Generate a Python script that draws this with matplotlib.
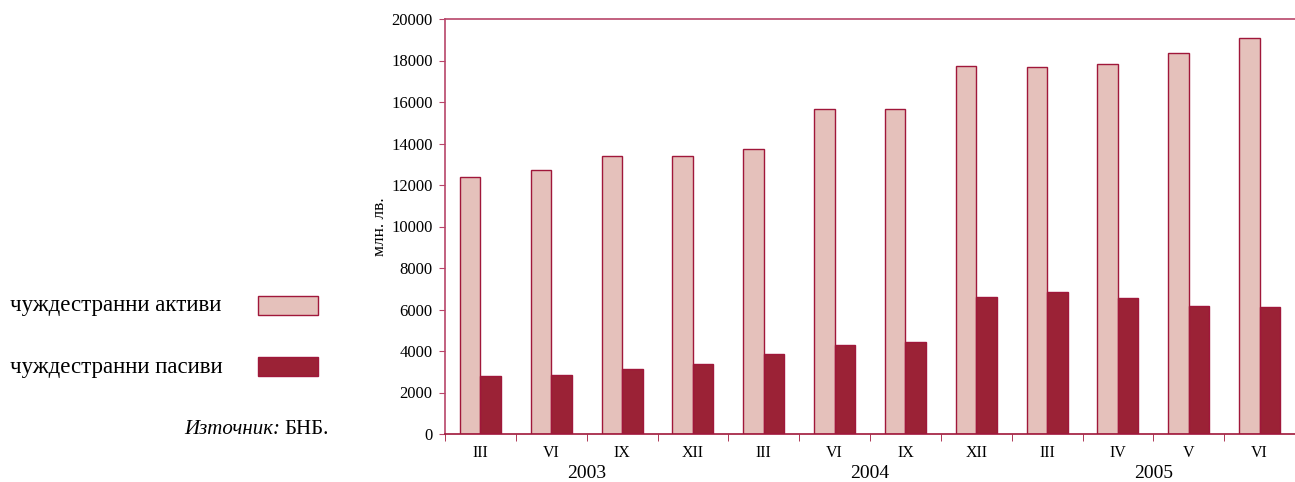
import numpy as np
import matplotlib.pyplot as plt
from matplotlib.patches import Rectangle

plt.rcParams['font.family'] = ['Liberation Serif', 'DejaVu Serif']

months = ['III', 'VI', 'IX', 'XII', 'III', 'VI', 'IX', 'XII', 'III', 'IV', 'V', 'VI']
years = ['2003', '2004', '2005']
year_groups = [(0, 3), (4, 7), (8, 11)]
assets = [12400, 12700, 13400, 13400, 13750, 15650, 15650, 17750, 17700, 17850, 18350, 19100]
liabilities = [2800, 2820, 3150, 3350, 3850, 4300, 4450, 6600, 6850, 6550, 6150, 6100]

c_assets = '#e5c1bb'
c_liab = '#9b2236'
c_edge = '#a0173a'
c_axis = '#b8466a'

fig = plt.figure(figsize=(12.95, 4.82), dpi=100)
ax = fig.add_axes([445 / 1295, 1 - 434 / 482, 850 / 1295, 415 / 482])

x = np.arange(len(months))
w = 0.29
ax.bar(x - w / 2, assets, w, color=c_assets, edgecolor=c_edge, linewidth=1)
ax.bar(x + w / 2, liabilities, w, color=c_liab, edgecolor=c_edge, linewidth=1)

ax.set_xlim(-0.5, len(months) - 0.5)
ax.set_ylim(0, 20000)
ax.set_yticks(range(0, 20001, 2000))
ax.tick_params(axis='y', labelsize=12, length=4, color=c_axis, pad=5)
ax.set_xticks(x)
ax.set_xticklabels(months, fontsize=11.5)
ax.tick_params(axis='x', length=0, pad=8)
ax.set_xticks(np.arange(-0.5, len(months), 1), minor=True)
ax.tick_params(axis='x', which='minor', length=5, color=c_edge)

ax.spines['right'].set_visible(False)
ax.spines['top'].set_color(c_axis)
ax.spines['left'].set_color(c_axis)
ax.spines['bottom'].set_color(c_edge)
for s in ['top', 'left', 'bottom']:
    ax.spines[s].set_linewidth(1.2)

ax.set_ylabel('млн. лв.', fontsize=12.5, labelpad=2)

for yr, (a, b) in zip(years, year_groups):
    ax.text((a + b) / 2, -0.075, yr, transform=ax.get_xaxis_transform(),
            ha='center', va='top', fontsize=14)

# legend at the left
fig.text(10 / 1295, 1 - 305 / 482, 'чуждестранни активи', fontsize=16.5, va='center', ha='left')
fig.text(10 / 1295, 1 - 367 / 482, 'чуждестранни пасиви', fontsize=16.5, va='center', ha='left')
fig.patches.append(Rectangle((258 / 1295, 1 - 315 / 482), 60 / 1295, 19 / 482,
                             transform=fig.transFigure, facecolor=c_assets, edgecolor=c_edge, linewidth=1))
fig.patches.append(Rectangle((258 / 1295, 1 - 376 / 482), 60 / 1295, 19 / 482,
                             transform=fig.transFigure, facecolor=c_liab, edgecolor=c_edge, linewidth=1))
fig.text(280 / 1295, 1 - 430 / 482, 'Източник:', fontsize=15, style='italic', ha='right', va='center')
fig.text(284 / 1295, 1 - 430 / 482, 'БНБ.', fontsize=15, ha='left', va='center')

fig.savefig('out.png', dpi=100)
